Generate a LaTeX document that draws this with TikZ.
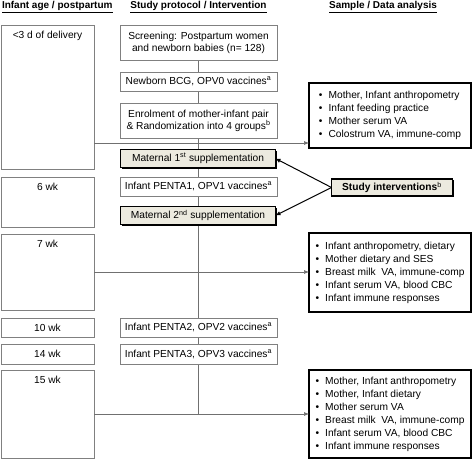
\documentclass[tikz,border=0pt]{standalone}
\usepackage{fontspec}
\setmainfont{Liberation Sans}
\usetikzlibrary{shadows,backgrounds,arrows.meta}
\definecolor{boxgray}{HTML}{808080}
\definecolor{linegray}{HTML}{707070}
\definecolor{intfill}{HTML}{ECEADF}
\begin{document}
\begin{tikzpicture}[x=1pt,y=-1pt,
  every node/.style={font=\fontsize{10.2}{12}\selectfont, inner sep=0pt, outer sep=0pt},
  agebox/.style={draw=boxgray, line width=0.8pt, rectangle, minimum width=93},
  protbox/.style={draw=boxgray, line width=0.8pt, rectangle, fill=white, minimum width=157, align=center},
  intbox/.style={draw=black, line width=1.1pt, rectangle, fill=intfill, align=center,
     drop shadow={shadow xshift=1.3pt, shadow yshift=-1.3pt, fill=black, opacity=1}},
  databox/.style={draw=black, line width=1.1pt, rectangle, fill=white, minimum width=162,
     font=\fontsize{10.2}{13}\selectfont, align=left},
  agetext/.style={anchor=north},
  hdr/.style={font=\bfseries\fontsize{10}{12}\selectfont},
  conn/.style={draw=linegray, line width=0.6pt},
  arr/.style={conn, -{Latex[length=5pt,width=4pt]}, shorten >=0pt},
  intarr/.style={draw=black, line width=1pt, -{Latex[length=5pt,width=4.5pt]}}
]
\useasboundingbox (0,0) rectangle (472,460);
\newcommand{\bul}{\textbullet\hspace{0.6em}}

% headers
\node[hdr, anchor=west] (h1) at (2,7) {\underline{Infant age / postpartum}};
\node[hdr] (h2) at (198.5,7) {\underline{Study protocol / Intervention}};
\node[hdr] (h3) at (383,7) {\underline{Sample / Data analysis}};

% age boxes
\node[agebox, minimum height=144] (a1) at (47.5,97) {};
\node[agetext] (t1) at ([yshift=-6]a1.north) {<3 d of delivery};
\node[agebox, minimum height=50] (a2) at (47.5,202) {};
\node[agetext] (t2) at ([yshift=-6]a2.north) {6 wk};
\node[agebox, minimum height=76] (a3) at (47.5,272) {};
\node[agetext] (t3) at ([yshift=-6]a3.north) {7 wk};
\node[agebox, minimum height=19] (a4) at (47.5,327.5) {10 wk};
\node[agebox, minimum height=20] (a5) at (47.5,354) {14 wk};
\node[agebox, minimum height=88] (a6) at (47.5,414) {};
\node[agetext] (t6) at ([yshift=-6]a6.north) {15 wk};

% protocol boxes
\node[protbox, minimum height=35] (m1) at (198.5,42.5) {Screening: Postpartum women\\and newborn babies (n= 128)};
\node[protbox, minimum height=19] (m2) at (198.5,81.5) {Newborn BCG, OPV0 vaccines\textsuperscript{a}};
\node[protbox, minimum height=35] (m3) at (198.5,120.5) {Enrolment of mother-infant pair\\\& Randomization into 4 groups\textsuperscript{b}};
\node[intbox, minimum width=155, minimum height=18] (m4) at (198,158.5) {Maternal 1\textsuperscript{st} supplementation};
\node[protbox, minimum height=19] (m5) at (198.5,186.5) {Infant PENTA1, OPV1 vaccines\textsuperscript{a}};
\node[intbox, minimum width=155, minimum height=18] (m6) at (198,215.5) {Maternal 2\textsuperscript{nd} supplementation};
\node[protbox, minimum height=19] (m7) at (198.5,327.5) {Infant PENTA2, OPV2 vaccines\textsuperscript{a}};
\node[protbox, minimum height=20] (m8) at (198.5,354) {Infant PENTA3, OPV3 vaccines\textsuperscript{a}};

% study interventions
\node[intbox, minimum width=121, minimum height=17, font=\bfseries\fontsize{10.2}{12}\selectfont] (si) at (392,187.5) {Study interventions\textsuperscript{\mdseries b}};

% data boxes
\node[databox, minimum height=65] (r1) at (390,115.5) {%
\bul Mother, Infant anthropometry\\
\bul Infant feeding practice\\
\bul Mother serum VA\\
\bul Colostrum VA, immune-comp};
\node[databox, minimum height=79] (r2) at (390,272.5) {%
\bul Infant anthropometry, dietary\\
\bul Mother dietary and SES\\
\bul Breast milk\ \ VA, immune-comp\\
\bul Infant serum VA, blood CBC\\
\bul Infant immune responses};
\node[databox, minimum height=88] (r3) at (390,414) {%
\bul Mother, Infant anthropometry\\
\bul Mother, Infant dietary\\
\bul Mother serum VA\\
\bul Breast milk\ \ VA, immune-comp\\
\bul Infant serum VA, blood CBC\\
\bul Infant immune responses};

% connectors
\coordinate (l1) at (0,143);
\coordinate (spineend) at (m1.south |- a6.east);
\begin{scope}[on background layer]
\draw[conn] (m1.south) -- (spineend);
\end{scope}
\draw[arr] (a1.east |- l1) -- (r1.west |- l1);
\draw[arr] (a3.east) -- (r2.west |- a3.east);
\draw[arr] (a6.east) -- (r3.west |- a6.east);

\draw[intarr] (si.west) -- (m4.east);
\draw[intarr] (si.west) -- (m6.east);
\end{tikzpicture}
\end{document}
